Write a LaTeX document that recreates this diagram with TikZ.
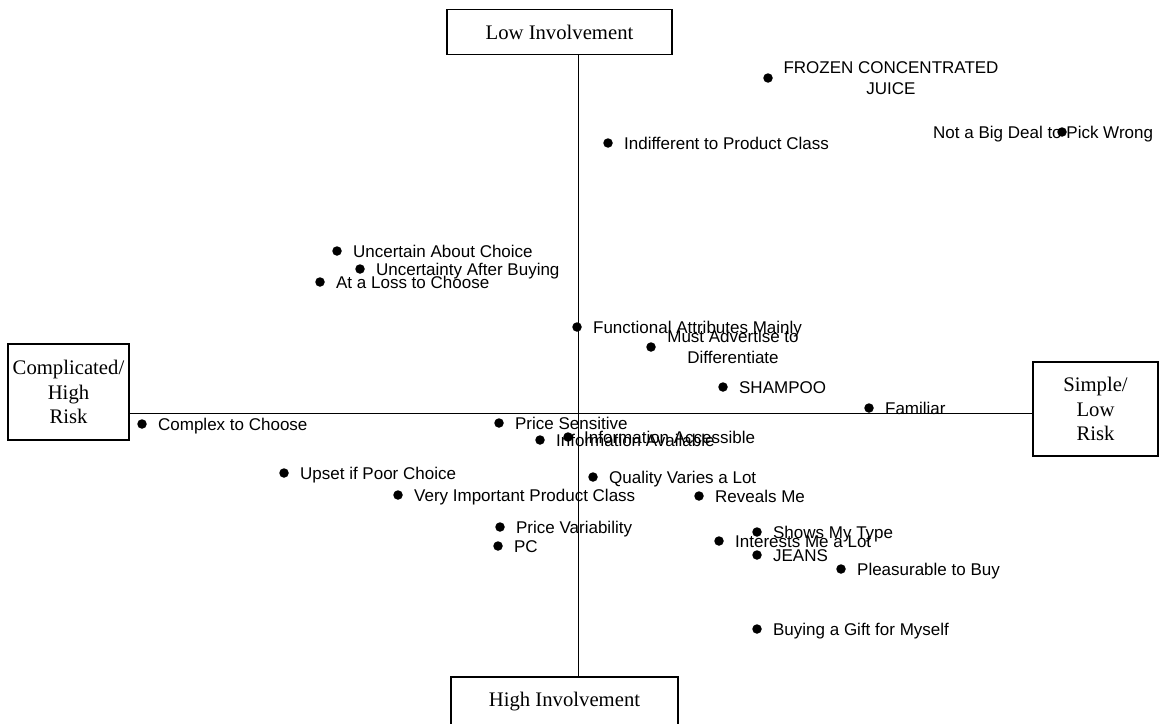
\documentclass[tikz,border=0pt]{standalone}
\usepackage{fontspec}
\setmainfont{Liberation Serif}
\setsansfont{Liberation Sans}
\usetikzlibrary{positioning}
\begin{document}
\begin{tikzpicture}[x=1pt,y=-1pt,
    box/.style={draw,line width=1.4pt,inner sep=0pt,align=center,font=\fontsize{20.7}{24.5}\selectfont},
    dot/.style={circle,fill=black,inner sep=0pt,minimum size=9.5pt},
    lbl/.style={inner sep=0pt,anchor=west,text height=12.2pt,text depth=0pt,font=\sffamily\fontsize{17}{20}\selectfont},
    lbltwo/.style={inner sep=0pt,align=center,font=\sffamily\fontsize{17}{20.5}\selectfont}]
    \useasboundingbox (0,0) rectangle (1159,723);
    % quadrant boxes
    \node[box,minimum width=225pt,minimum height=45pt] (low) at (559.5,32) {Low Involvement};
    \node[box,minimum width=227pt,minimum height=50pt] (high) at (564.5,702) {High Involvement};
    \node[box,minimum width=121pt,minimum height=96pt] (cplx) at (68.5,392) {Complicated/\\High\\Risk};
    \node[box,minimum width=125pt,minimum height=94pt] (simp) at (1095.5,409) {Simple/\\Low\\Risk};
    \coordinate (ctr) at (578,413);
    \draw[line width=1pt] (low.south -| ctr)--(high.north -| ctr);
    \draw[line width=1pt] (cplx.east |- ctr)--(simp.west |- ctr);
    % attributes
    \node[lbltwo] (fcjt) at (891,78) {FROZEN CONCENTRATED\\JUICE};
    \node[dot] (fcj) at (768,78) {};
    \node[lbl] (nbdt) at (933,132) {Not a Big Deal to Pick Wrong};
    \node[dot] (nbd) at (1062,132) {};
    \node[dot] (ind) at (608,143) {};
    \node[lbl,right=11pt of ind] {Indifferent to Product Class};
    \node[dot] (unc) at (337,251) {};
    \node[lbl,right=11pt of unc] {Uncertain About Choice};
    \node[dot] (uab) at (360,269) {};
    \node[lbl,right=11pt of uab] {Uncertainty After Buying};
    \node[dot] (alc) at (320,282) {};
    \node[lbl,right=11pt of alc] {At a Loss to Choose};
    \node[dot] (fam) at (577,327) {};
    \node[lbl,right=11pt of fam] {Functional Attributes Mainly};
    \node[dot] (mad) at (651,347) {};
    \node[lbltwo] at (733,347) {Must Advertise to\\Differentiate};
    \node[dot] (sha) at (723,387) {};
    \node[lbl,right=11pt of sha] {SHAMPOO};
    \node[dot] (fml) at (869,408) {};
    \node[lbl,right=11pt of fml] {Familiar};
    \node[dot] (ctc) at (142,424) {};
    \node[lbl,right=11pt of ctc] {Complex to Choose};
    \node[dot] (prs) at (499,423) {};
    \node[lbl,right=11pt of prs] {Price Sensitive};
    \node[dot] (iav) at (540,440) {};
    \node[lbl,right=11pt of iav] {Information Available};
    \node[dot] (iac) at (568,437) {};
    \node[lbl,right=11pt of iac] {Information Accessible};
    \node[dot] (upc) at (284,473) {};
    \node[lbl,right=11pt of upc] {Upset if Poor Choice};
    \node[dot] (qva) at (593,477) {};
    \node[lbl,right=11pt of qva] {Quality Varies a Lot};
    \node[dot] (vip) at (398,495) {};
    \node[lbl,right=11pt of vip] {Very Important Product Class};
    \node[dot] (rvm) at (699,496) {};
    \node[lbl,right=11pt of rvm] {Reveals Me};
    \node[dot] (prv) at (500,527) {};
    \node[lbl,right=11pt of prv] {Price Variability};
    \node[dot] (pc) at (498,546) {};
    \node[lbl,right=11pt of pc] {PC};
    \node[dot] (smt) at (757,532) {};
    \node[lbl,right=11pt of smt] {Shows My Type};
    \node[dot] (iml) at (719,541) {};
    \node[lbl,right=11pt of iml] {Interests Me a Lot};
    \node[dot] (jns) at (757,555) {};
    \node[lbl,right=11pt of jns] {JEANS};
    \node[dot] (ptb) at (841,569) {};
    \node[lbl,right=11pt of ptb] {Pleasurable to Buy};
    \node[dot] (bgm) at (757,629) {};
    \node[lbl,right=11pt of bgm] {Buying a Gift for Myself};
\end{tikzpicture}
\end{document}
